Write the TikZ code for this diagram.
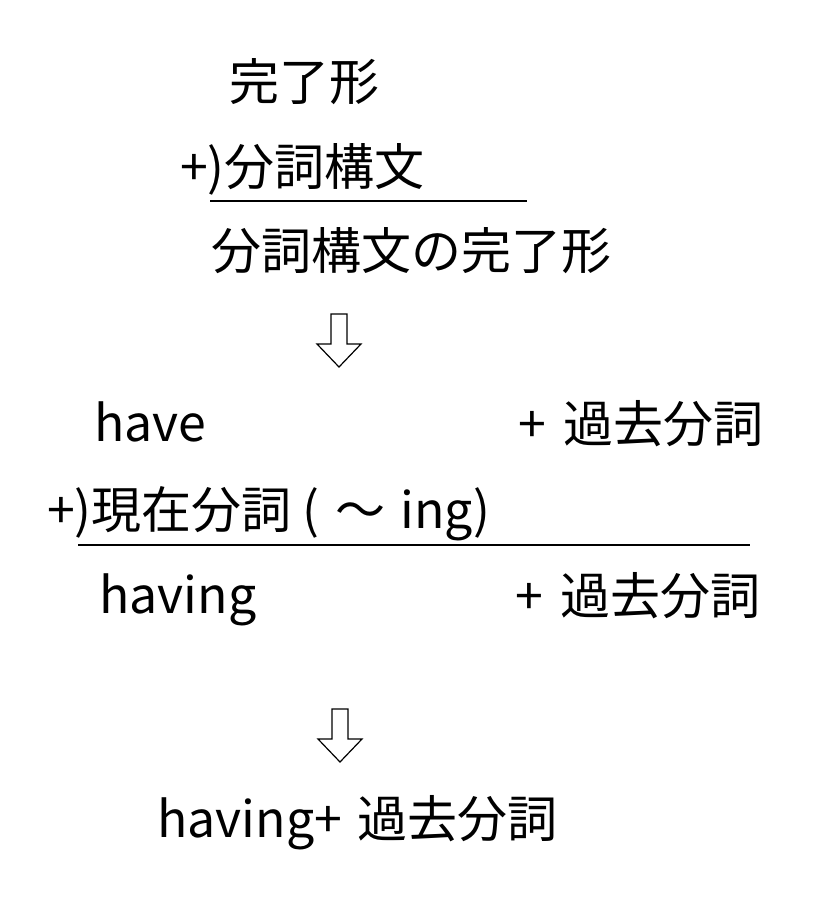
\documentclass[tikz,border=0pt]{standalone}
\usepackage{fontspec}
\setmainfont{Noto Sans CJK JP}
\tikzset{
  every term/.style={anchor=base west, inner sep=0pt, font=\fontsize{50pt}{60pt}\selectfont},
  sum rule/.style={line width=1.3pt},
  hollow arrow/.style={draw, line width=1.2pt, fill=white, line join=miter}
}
\begin{document}
\begin{tikzpicture}[x=1pt, y=-1pt]
  \useasboundingbox (0,0) rectangle (813,897);

  % first sum
  \node [every term] (perfect) at (229,100) {完了形};
  \node [every term] (plus-1) at (180,185) {+)分詞構文};
  \coordinate (rule-1-l) at (210,201);
  \coordinate (rule-1-r) at (527,201);
  \draw [sum rule] (rule-1-l) -- (rule-1-r);
  \node [every term] (sum-1) at (211,269) {分詞構文の完了形};

  % second sum
  \node [every term] (have) at (94,441) {have};
  \node [every term] (pp-1) at (518,442) {+\hspace{0.12em} 過去分詞};
  \node [every term] (plus-2) at (47,528) {+)現在分詞 (\hspace{0.08em} ～\hspace{0.08em} ing)};
  \coordinate (rule-2-l) at (78,545);
  \coordinate (rule-2-r) at (750,545);
  \draw [sum rule] (rule-2-l) -- (rule-2-r);
  \node [every term] (having) at (99,613) {having};
  \node [every term] (pp-2) at (515,614) {+\hspace{0.12em} 過去分詞};

  % result
  \node [every term] (result) at (157,837) {having+\hspace{0.08em} 過去分詞};

  \foreach \cx/\top in {339/314, 340/709}
    \draw [hollow arrow] (\cx-8,\top) -- (\cx+8,\top) -- (\cx+8,\top+30)
      -- (\cx+22,\top+30) -- (\cx,\top+53) -- (\cx-22,\top+30)
      -- (\cx-8,\top+30) -- cycle;
\end{tikzpicture}
\end{document}
